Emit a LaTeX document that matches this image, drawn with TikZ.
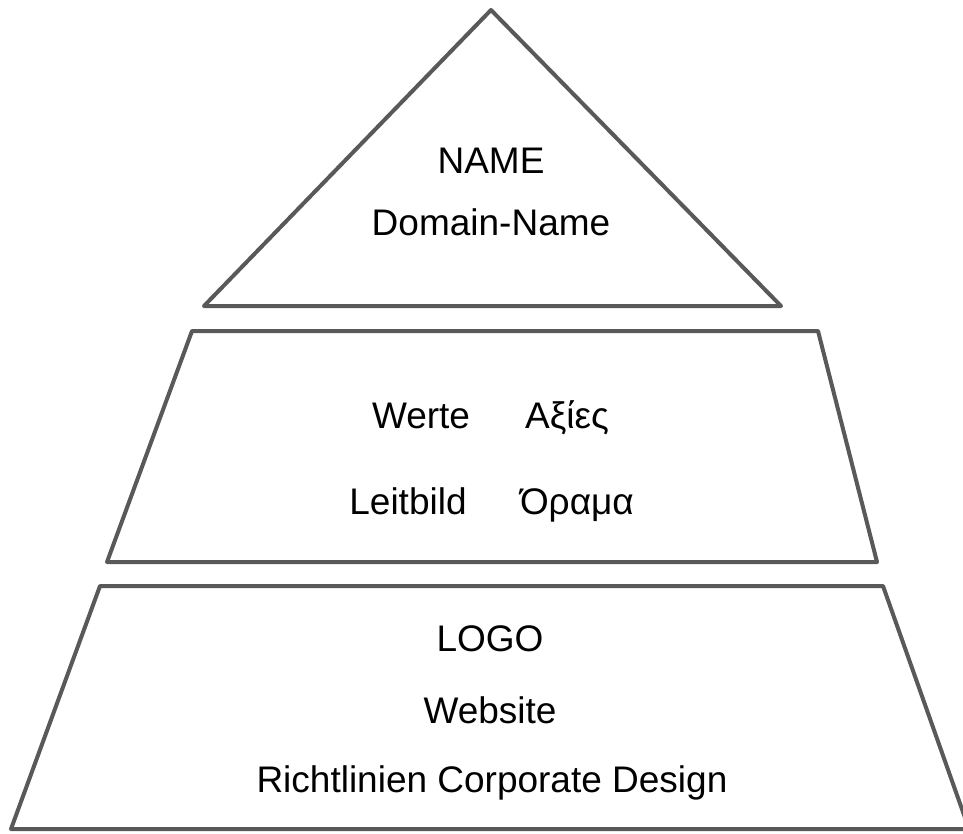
\documentclass[tikz,border=0pt]{standalone}
\usepackage{fontspec}
\setmainfont{Liberation Sans}
\begin{document}
\begin{tikzpicture}[x=1pt,y=-1pt,
  layer/.style={draw=black!65,line width=4pt,line join=round,fill=white},
  lbl/.style={font=\fontsize{37}{40}\selectfont,text=black,inner sep=0pt,anchor=base}]
\useasboundingbox (0,0) rectangle (963,833);
\clip (0,0) rectangle (963,833);
\fill[white] (0,0) rectangle (963,833);
% top triangle
\draw[layer] (491,10) -- (781,306) -- (204,306) -- cycle;
% middle trapezoid
\draw[layer] (192,331) -- (818,331) -- (877,562) -- (107,562) -- cycle;
% bottom trapezoid
\draw[layer] (100,586) -- (883,586) -- (969,829) -- (11,829) -- cycle;
% texts
\node[lbl] (name) at (491,173) {NAME};
\node[lbl] (domain) at (491,235) {Domain-Name};
\node[lbl] (werte) at (421,428) {Werte};
\node[lbl] (axies) at (567,428) {Αξίες};
\node[lbl] (leitbild) at (408,514) {Leitbild};
\node[lbl] (orama) at (577,514) {Όραμα};
\node[lbl] (logo) at (490,651) {LOGO};
\node[lbl] (website) at (490,723) {Website};
\node[lbl] (richt) at (492,792) {Richtlinien Corporate Design};
\end{tikzpicture}
\end{document}
